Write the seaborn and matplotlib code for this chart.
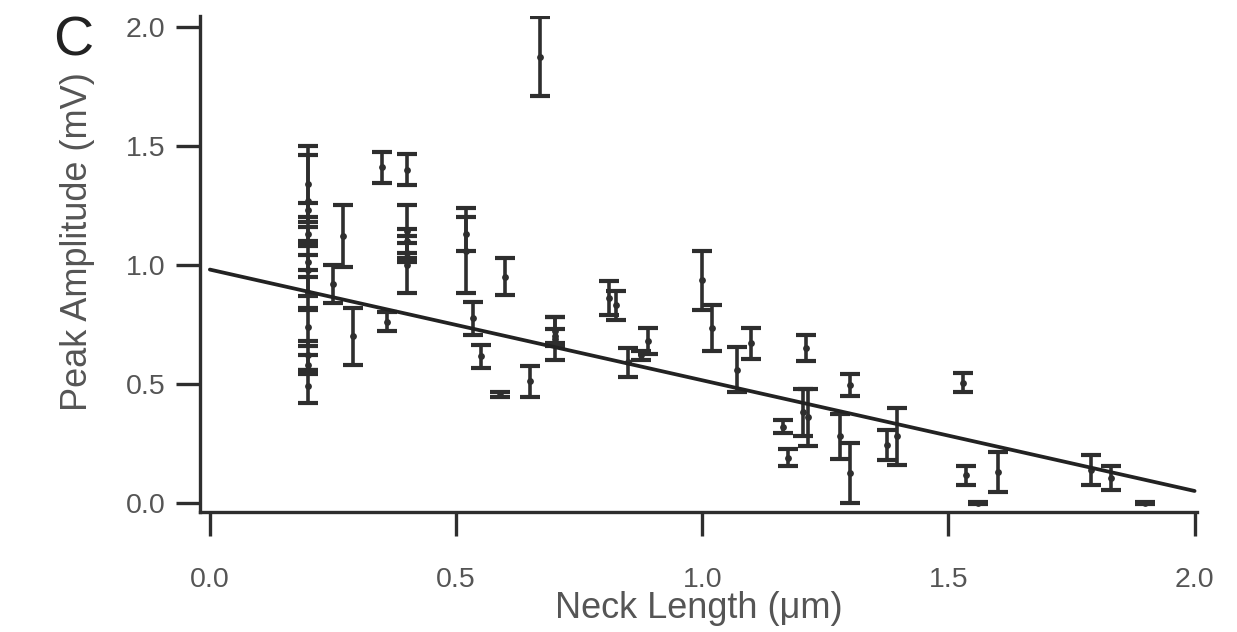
import matplotlib
matplotlib.use("Agg")
import matplotlib.pyplot as plt
import seaborn as sns
import pandas as pd

# neck length (um), peak amplitude (mV), error (mV)
neck_length = [
    0.20, 0.20, 0.20, 0.20, 0.20, 0.20, 0.20, 0.20, 0.20, 0.20, 0.20,
    0.25, 0.27, 0.29, 0.35, 0.36,
    0.40, 0.40, 0.40, 0.40, 0.40,
    0.52, 0.52, 0.535, 0.55, 0.59, 0.60, 0.65, 0.67,
    0.70, 0.70, 0.70, 0.81, 0.825, 0.85, 0.875, 0.89,
    1.00, 1.02, 1.07, 1.10, 1.165, 1.175, 1.205, 1.215, 1.21,
    1.28, 1.30, 1.30, 1.375, 1.395,
    1.53, 1.535, 1.56, 1.60, 1.79, 1.83, 1.90,
]
peak_amp = [
    1.34, 1.27, 1.23, 1.13, 1.01, 0.98, 0.88, 0.74, 0.62, 0.58, 0.49,
    0.92, 1.12, 0.70, 1.41, 0.76,
    1.40, 1.14, 1.10, 1.05, 1.00,
    1.13, 1.06, 0.775, 0.615, 0.455, 0.95, 0.51, 1.875,
    0.72, 0.69, 0.70, 0.86, 0.83, 0.59, 0.62, 0.68,
    0.935, 0.735, 0.56, 0.67, 0.32, 0.19, 0.38, 0.36, 0.65,
    0.28, 0.495, 0.125, 0.245, 0.28,
    0.505, 0.115, 0.0, 0.13, 0.14, 0.105, 0.0,
]
amp_err = [
    0.16, 0.19, 0.03, 0.03, 0.03, 0.11, 0.07, 0.08, 0.06, 0.04, 0.07,
    0.08, 0.13, 0.12, 0.065, 0.04,
    0.065, 0.11, 0.05, 0.04, 0.12,
    0.07, 0.18, 0.068, 0.05, 0.012, 0.077, 0.065, 0.165,
    0.06, 0.09, 0.03, 0.07, 0.06, 0.06, 0.02, 0.055,
    0.125, 0.095, 0.093, 0.065, 0.028, 0.035, 0.10, 0.12, 0.055,
    0.095, 0.045, 0.125, 0.063, 0.12,
    0.04, 0.04, 0.005, 0.085, 0.063, 0.05, 0.005,
]

# linear fit as drawn in the figure
fit_x = [0.0, 2.0]
fit_y = [0.98, 0.05]

df = pd.DataFrame({"neck": neck_length, "amp": peak_amp, "err": amp_err})
fit = pd.DataFrame({"neck": fit_x, "amp": fit_y})

sns.set_theme(style="ticks")
plt.rcParams["font.family"] = ["Liberation Sans", "DejaVu Sans"]

ink = "#2e2e2e"
text_col = "#555555"

fig = plt.figure(figsize=(12.37, 6.32), dpi=100)
ax = fig.add_axes([0.1617, 0.19, 0.806, 0.785])

ax.errorbar(df["neck"], df["amp"], yerr=df["err"], fmt="none",
            ecolor=ink, elinewidth=2.6, capsize=7, capthick=3.0, zorder=2)
sns.scatterplot(data=df, x="neck", y="amp", ax=ax, color=ink, s=24,
                edgecolor=ink, linewidth=0, zorder=3)
sns.lineplot(data=fit, x="neck", y="amp", ax=ax, color="#222222",
             linewidth=2.7, zorder=4)

ax.set_xlim(-0.02, 2.005)
ax.set_ylim(-0.038, 2.046)
ax.set_xticks([0.0, 0.5, 1.0, 1.5, 2.0])
ax.set_yticks([0.0, 0.5, 1.0, 1.5, 2.0])
ax.set_xticklabels(["0.0", "0.5", "1.0", "1.5", "2.0"])
ax.set_yticklabels(["0.0", "0.5", "1.0", "1.5", "2.0"])

for side in ["top", "right"]:
    ax.spines[side].set_visible(False)
for side in ["left", "bottom"]:
    ax.spines[side].set_linewidth(2.4)
    ax.spines[side].set_color(ink)

ax.tick_params(axis="both", direction="out", length=17, width=2.4,
               color=ink, labelsize=20.5, labelcolor=text_col)
ax.tick_params(axis="x", pad=23)
ax.tick_params(axis="y", pad=8)

ax.set_xlabel("Neck Length (\u03bcm)", fontsize=26, color=text_col)
ax.set_ylabel("Peak Amplitude (mV)", fontsize=26, color=text_col)
ax.xaxis.set_label_coords(0.5, -0.16)
ax.yaxis.set_label_coords(-0.105, 0.545)

fig.text(0.043, 0.935, "C", fontsize=40, color="#222222",
         ha="left", va="center")

fig.savefig("out.png", dpi=100)
plt.close(fig)
